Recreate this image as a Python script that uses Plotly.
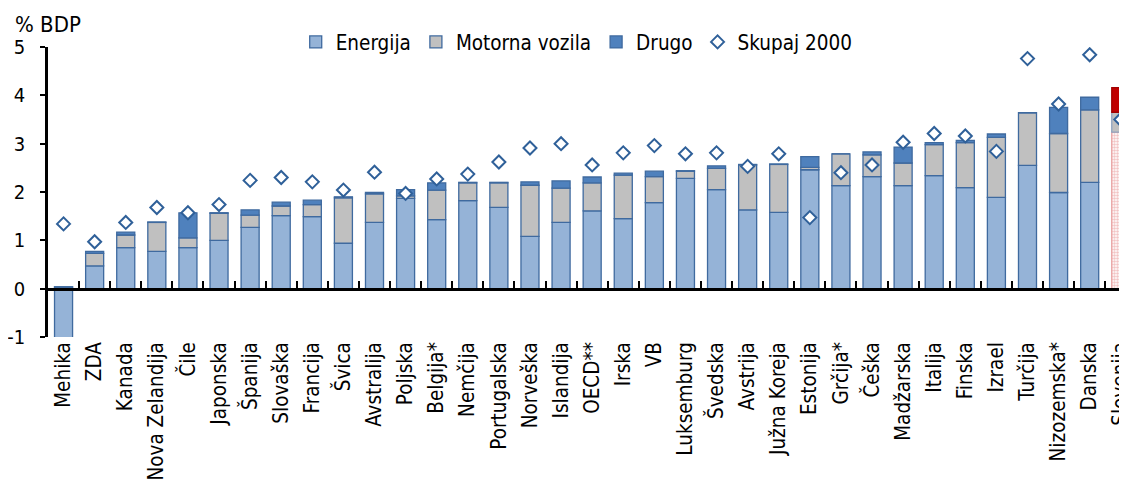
import plotly.graph_objects as go

countries = ["Mehika", "ZDA", "Kanada", "Nova Zelandija", "Čile", "Japonska", "Španija",
             "Slovaška", "Francija", "Švica", "Avstralija", "Poljska", "Belgija*", "Nemčija",
             "Portugalska", "Norveška", "Islandija", "OECD**", "Irska", "VB", "Luksemburg",
             "Švedska", "Avstrija", "Južna Koreja", "Estonija", "Grčija*", "Češka", "Madžarska",
             "Italija", "Finska", "Izrael", "Turčija", "Nizozemska*", "Danska", "Slovenija"]
energija = [-1.15, 0.47, 0.85, 0.77, 0.85, 1.00, 1.27, 1.51, 1.49, 0.94, 1.37, 1.87, 1.43, 1.82,
            1.68, 1.08, 1.37, 1.61, 1.45, 1.78, 2.28, 2.05, 1.63, 1.58, 2.46, 2.13, 2.32, 2.13,
            2.34, 2.09, 1.89, 2.55, 1.99, 2.20, 3.24]
motorna = [0.03, 0.26, 0.26, 0.60, 0.20, 0.56, 0.25, 0.20, 0.25, 0.94, 0.59, 0.05, 0.61, 0.37,
           0.51, 1.06, 0.71, 0.58, 0.90, 0.54, 0.15, 0.44, 0.93, 0.99, 0.05, 0.66, 0.45, 0.47,
           0.64, 0.93, 1.24, 1.09, 1.22, 1.50, 0.41]
drugo = [0.01, 0.04, 0.06, 0.01, 0.52, 0.01, 0.11, 0.08, 0.09, 0.02, 0.03, 0.13, 0.15, 0.01,
         0.01, 0.07, 0.15, 0.12, 0.04, 0.11, 0.01, 0.05, 0.01, 0.01, 0.22, 0.00, 0.06, 0.33,
         0.04, 0.05, 0.07, 0.00, 0.54, 0.26, 0.51]
skupaj2000 = [1.34, 0.97, 1.37, 1.68, 1.57, 1.74, 2.24, 2.30, 2.21, 2.04, 2.41, 1.97, 2.27, 2.37,
              2.62, 2.91, 3.00, 2.56, 2.81, 2.96, 2.79, 2.81, 2.53, 2.79, 1.47, 2.40, 2.56, 3.03,
              3.21, 3.16, 2.84, 4.76, 3.82, 4.84, 3.50]
y_ticks = [-1, 0, 1, 2, 3, 4, 5]
y_ticktext = ["-1", "0", "1", "2", "3", "4", "5"]

highlight = "Slovenija"
n = len(countries)
is_hl = [c == highlight for c in countries]

C_EN = "#95B3D7"
C_MV = "#C0C0C0"
C_DR = "#4F81BD"
C_EDGE = "#3F6A9F"
FONT = "DejaVu Sans Condensed, Liberation Sans Narrow, Arial Narrow, sans-serif"

fig = go.Figure()
fig.add_trace(go.Bar(
    x=countries, y=energija, name="Energija",
    marker=dict(color=["#F2C4C4" if h else C_EN for h in is_hl],
                line=dict(color=["#E8A0A0" if h else C_EDGE for h in is_hl], width=1.3),
                pattern=dict(shape=["." if h else "" for h in is_hl],
                             fgcolor="#E01010", bgcolor="#FFFFFF", size=3, solidity=0.55,
                             fillmode="replace")),
))
fig.add_trace(go.Bar(
    x=countries, y=motorna, name="Motorna vozila",
    marker=dict(color=C_MV, line=dict(color=["#8FA3BF" if h else C_EDGE for h in is_hl], width=1.3)),
))
fig.add_trace(go.Bar(
    x=countries, y=drugo, name="Drugo",
    marker=dict(color=["#C00000" if h else C_DR for h in is_hl],
                line=dict(color=["#A00000" if h else C_EDGE for h in is_hl], width=1.3)),
))
fig.add_trace(go.Scatter(
    x=countries, y=skupaj2000, name="Skupaj 2000", mode="markers",
    marker=dict(symbol="diamond", size=10, color="#FFFFFF",
                line=dict(color="#2F6099", width=2)),
))
# zero-line axis with boundary ticks
fig.add_trace(go.Scatter(x=countries, y=[None] * n, xaxis="x2", showlegend=False,
                         hoverinfo="skip", mode="markers"))

# page body has an 8px margin: size the figure so the plot fills the 1127x480 window
fig.update_layout(
    width=1119, height=472,
    margin=dict(l=40, r=0, t=39, b=143, autoexpand=False),
    paper_bgcolor="white", plot_bgcolor="white",
    barmode="relative", bargap=0.42,
    font=dict(family=FONT, color="#000000", size=20),
    showlegend=True,
    legend=dict(orientation="h", x=0.49, xanchor="center", y=1.017, yanchor="middle",
                font=dict(size=20.5, family=FONT),
                bgcolor="rgba(0,0,0,0)", traceorder="normal", itemwidth=30),
    xaxis=dict(type="category", categoryorder="array", categoryarray=countries,
               range=[-0.5, 34.2], showline=False, showgrid=False, ticks="",
               tickangle=-90, zeroline=False, automargin=False,
               tickfont=dict(family=FONT, size=20.5, color="#000000")),
    xaxis2=dict(type="category", categoryorder="array", categoryarray=countries,
                overlaying="x", matches="x", anchor="free", position=1 / 6,
                showline=True, linecolor="#000000", linewidth=2.5,
                ticks="inside", tickson="boundaries", ticklen=7, tickwidth=2, tickcolor="#000000",
                showticklabels=False, showgrid=False, zeroline=False, automargin=False),
    yaxis=dict(range=[-1, 5], tickvals=y_ticks, ticktext=y_ticktext,
               showgrid=False, zeroline=False,
               showline=True, linecolor="#000000", linewidth=2.5, automargin=False,
               ticks="outside", ticklen=5, tickwidth=2, tickcolor="#000000",
               ticklabelstandoff=11, tickfont=dict(size=20, family=FONT)),
    annotations=[dict(text="% BDP", xref="paper", yref="paper", x=-0.0324, y=1.079,
                      xanchor="left", yanchor="middle", showarrow=False,
                      font=dict(size=22, family=FONT))],
)

fig.write_html("out.html")
